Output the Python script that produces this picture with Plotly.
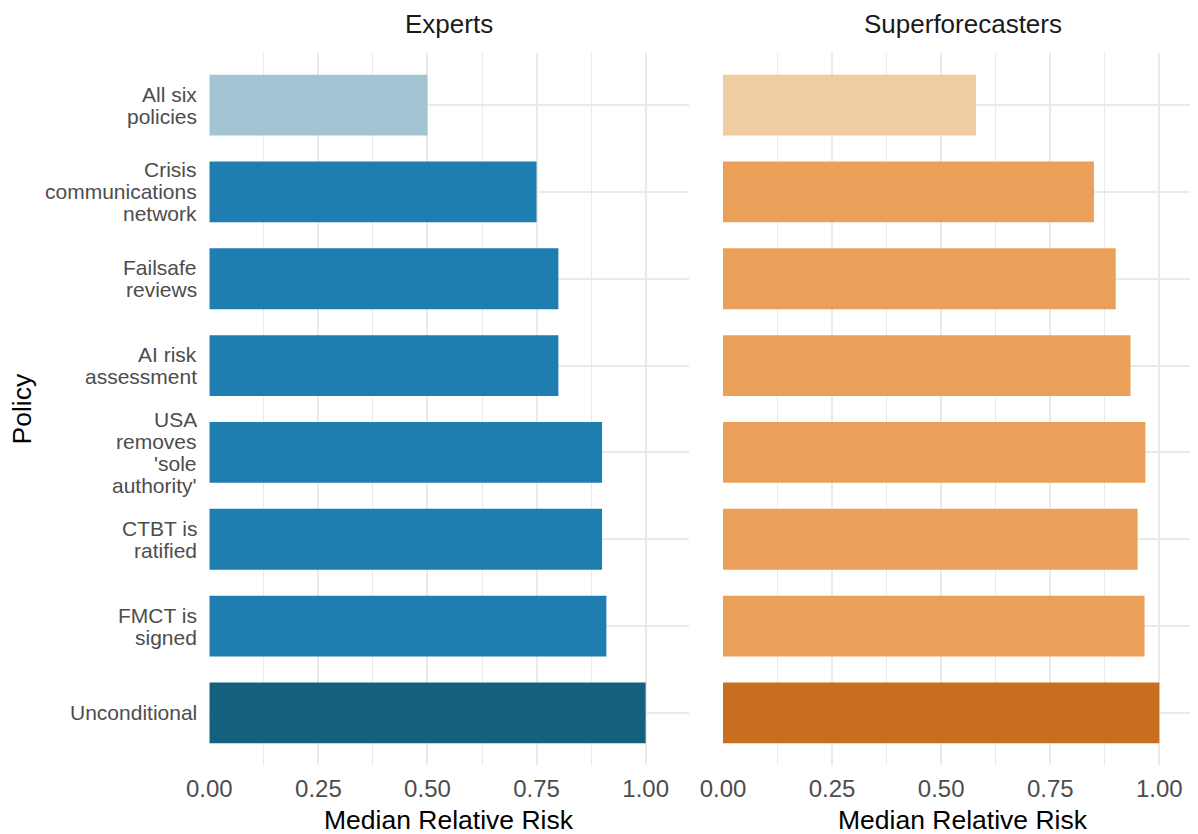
import plotly.graph_objects as go

# ---- data ----
policies = ["Unconditional", "FMCT is signed", "CTBT is ratified",
            "USA removes 'sole authority'", "AI risk assessment",
            "Failsafe reviews", "Crisis communications network", "All six policies"]
policy_labels = ["Unconditional", "FMCT is<br>signed", "CTBT is<br>ratified",
                 "USA<br>removes<br>'sole<br>authority'", "AI risk<br>assessment",
                 "Failsafe<br>reviews", "Crisis<br>communications<br>network", "All six<br>policies"]
experts = [1.00, 0.91, 0.90, 0.90, 0.80, 0.80, 0.75, 0.50]
superforecasters = [1.00, 0.966, 0.950, 0.968, 0.934, 0.90, 0.85, 0.58]
groups = ["Experts", "Superforecasters"]
x_ticks = [0, 0.25, 0.5, 0.75, 1.0]

# ---- styles ----
exp_colors = ["#16607F"] + ["#1F7EB0"] * 6 + ["#A2C4D3"]
sup_colors = ["#C86E1F"] + ["#EBA059"] * 6 + ["#EFCDA0"]
FONT = "Liberation Sans, Arial, sans-serif"
W, H = 1198, 834
OFF = 8  # page body margin
grid = "#EAEAEA"


def px(xr):
    return (xr - OFF) / W


def py(yr):
    return 1 - (yr - OFF) / H


fig = go.Figure()
fig.add_trace(go.Bar(y=policies, x=experts, orientation="h", width=0.7,
                     marker=dict(color=exp_colors, line=dict(width=0)),
                     xaxis="x", yaxis="y", showlegend=False))
fig.add_trace(go.Bar(y=policies, x=superforecasters, orientation="h", width=0.7,
                     marker=dict(color=sup_colors, line=dict(width=0)),
                     xaxis="x2", yaxis="y2", showlegend=False))

ydom = [py(765), py(53)]
xdom1 = [px(209.3), px(689.3)]
xdom2 = [px(723.0), px(1203.0)]

xax = dict(tickvals=x_ticks, tickformat=".2f", showgrid=True, gridcolor=grid, gridwidth=1.5,
           zeroline=False, showline=False, ticks="", automargin=False,
           ticklabelstandoff=7,
           tickfont=dict(family=FONT, size=24, color="#4D4D4D"),
           minor=dict(tickvals=[0.125, 0.375, 0.625, 0.875], showgrid=True,
                      gridcolor=grid, gridwidth=1.0),
           range=[0, 1.1], fixedrange=True)
yax = dict(categoryorder="array", categoryarray=policies, range=[-0.6, 7.6],
           showgrid=True, gridcolor=grid, gridwidth=1.5, zeroline=False, automargin=False,
           showticklabels=False, ticks="", domain=ydom, fixedrange=True)

fig.update_layout(
    template="none",
    width=W, height=H, margin=dict(l=0, r=0, t=0, b=0, pad=0, autoexpand=False),
    paper_bgcolor="white", plot_bgcolor="white",
    font=dict(family=FONT),
    xaxis=dict(xax, domain=xdom1, anchor="y"),
    xaxis2=dict(xax, domain=xdom2, anchor="y2"),
    yaxis=dict(yax, anchor="x"),
    yaxis2=dict(yax, anchor="x2"),
)

annotations = []
# multi-line y tick labels, one annotation per line on the category axis
for cat, lab in zip(policies, policy_labels):
    lines = lab.split("<br>")
    n = len(lines)
    for i, ln in enumerate(lines):
        annotations.append(dict(x=0, y=cat, xref="x", yref="y", text=ln,
                                showarrow=False, xanchor="right", yanchor="middle",
                                xshift=-10, yshift=((n - 1) / 2 - i) * 22,
                                font=dict(family=FONT, size=21, color="#4D4D4D")))
# facet strip titles
for g, dom in zip(groups, [xdom1, xdom2]):
    annotations.append(dict(x=(dom[0] + dom[1]) / 2, y=py(24), xref="paper", yref="paper",
                            text=g, showarrow=False, xanchor="center", yanchor="middle",
                            font=dict(family=FONT, size=26, color="#1A1A1A")))
# x axis titles
for dom in [xdom1, xdom2]:
    annotations.append(dict(x=(dom[0] + dom[1]) / 2, y=py(820), xref="paper", yref="paper",
                            text="Median Relative Risk", showarrow=False,
                            xanchor="center", yanchor="middle",
                            font=dict(family=FONT, size=26.5, color="#000000")))
# y axis title
annotations.append(dict(x=px(21.5), y=py(409), xref="paper", yref="paper",
                        text="Policy", textangle=-90, showarrow=False,
                        xanchor="center", yanchor="middle",
                        font=dict(family=FONT, size=26.5, color="#000000")))
fig.update_layout(annotations=annotations)

fig.write_html("out.html")
